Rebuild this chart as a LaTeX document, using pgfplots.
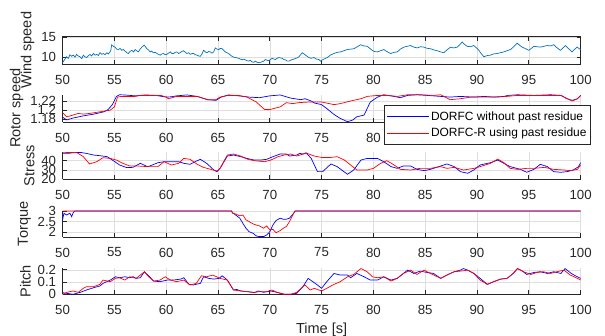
\documentclass[border=0pt]{standalone}
\usepackage{fontspec}
\setmainfont{Liberation Sans}
\usepackage{pgfplots}
\pgfplotsset{compat=1.18}
\definecolor{mblue}{rgb}{0,0.447,0.741}
\definecolor{axc}{rgb}{0.15,0.15,0.15}
\definecolor{gridc}{rgb}{0.87,0.87,0.87}
\pgfplotsset{
  mystyle/.style={
    scale only axis, width=518bp,
    xmin=50, xmax=100, xtick={50,55,60,65,70,75,80,85,90,95,100},
    tick align=inside, major tick length=4bp,
    grid=major, grid style={gridc, line width=0.5bp},
    axis line style={axc, line width=0.6bp},
    every tick/.style={axc, line width=0.6bp},
    tick label style={font=\fontsize{13.3}{14}\selectfont, text=axc},
    /pgf/number format/assume math mode=true,
    xticklabel style={yshift=-7.5bp},
    yticklabel style={xshift=-3bp},
    ylabel style={font=\fontsize{14.6}{16}\selectfont, text=axc},
    anchor=north west, clip=false,
  },
  openbox/.style={axis x line*=bottom, axis y line*=left},
  bl/.style={blue, line width=0.7bp},
  rd/.style={red, line width=0.7bp},
}
\begin{document}
\begin{tikzpicture}
\path[use as bounding box] (-62.6bp,0bp) rectangle (542.4bp,-336bp);
% Wind speed
\begin{axis}[mystyle, at={(0bp,-36.5bp)}, height=27.5bp, ymin=8.28, ymax=15.16, ytick={10,15}, ylabel={Wind speed}]
\addplot[mblue, line width=0.7bp] coordinates {(50,8.6) (50.2,9.4) (50.39,10.1) (50.55,9.7) (50.71,10.6) (50.87,10.2) (51.03,10.5) (51.2,10.0) (51.35,10.7) (51.5,10.3) (51.68,10.1) (51.85,9.6) (52,10.5) (52.15,10.1) (52.32,9.9) (52.5,10.4) (52.65,10.7) (52.8,10.3) (52.97,10.9) (53.13,10.5) (53.29,10.7) (53.45,10.4) (53.61,11.1) (53.78,10.7) (53.94,10.9) (54.1,10.6) (54.26,11.1) (54.42,10.8) (54.58,11.3) (54.66,11.8) (54.74,13.1) (54.9,12.7) (55.06,12.5) (55.22,12.0) (55.39,11.9) (55.55,12.2) (55.71,11.7) (55.87,11.9) (56.03,11.5) (56.2,11.1) (56.35,10.9) (56.5,11.4) (56.68,11.7) (56.85,11.3) (57,11.9) (57.15,11.6) (57.32,11.3) (57.48,12.0) (57.65,12.5) (57.87,13.0) (58.0,12.6) (58.13,12.1) (58.3,11.8) (58.45,11.3) (58.6,11.5) (58.77,11.1) (58.95,11.2) (59.1,10.9) (59.25,10.7) (59.42,10.5) (59.58,10.8) (59.74,10.9) (59.9,10.6) (60.06,10.7) (60.22,11.0) (60.39,11.3) (60.55,10.9) (60.71,10.9) (60.87,11.2) (61.03,11.3) (61.2,10.9) (61.35,11.1) (61.5,11.4) (61.68,11.6) (61.85,11.2) (62,10.9) (62.15,11.1) (62.32,10.7) (62.5,10.9) (62.65,10.9) (62.8,10.6) (62.97,10.5) (63.13,10.3) (63.29,10.2) (63.45,10.8) (63.61,11.7) (63.78,11.3) (63.94,11.1) (64.1,11.4) (64.26,11.3) (64.42,11.0) (64.58,11.3) (64.66,11.8) (64.74,12.3) (64.9,12.0) (65.06,11.9) (65.22,12.2) (65.39,12.1) (65.55,11.7) (65.71,11.3) (65.87,11.1) (66.03,10.9) (66.2,10.5) (66.35,10.2) (66.5,10.0) (66.68,9.9) (66.85,9.8) (67,9.7) (67.15,9.5) (67.32,9.4) (67.48,9.5) (67.65,9.3) (67.8,9.1) (67.97,9.0) (68.13,9.2) (68.29,8.8) (68.45,8.7) (68.61,9.0) (68.78,8.7) (68.94,8.6) (69.1,8.7) (69.26,8.85) (69.42,9.0) (69.58,9.4) (69.75,9.2) (69.9,9.1) (70.06,9.4) (70.23,9.7) (70.4,9.5) (70.55,9.4) (70.7,9.7) (70.87,9.9) (71.03,9.8) (71.19,9.7) (71.35,9.4) (71.52,9.3) (71.68,9.0) (71.84,9.0) (72.0,9.2) (72.16,9.4) (72.32,9.5) (72.48,9.7) (72.65,9.8) (72.81,10.1) (72.97,10.6) (73.13,11.1) (73.3,10.8) (73.45,10.5) (73.6,10.2) (73.77,9.9) (74.0,9.7) (74.26,9.9) (74.5,9.5) (74.74,9.4) (74.9,9.0) (75.06,9.3) (75.3,9.6) (75.55,9.9) (75.85,10.5) (76.19,10.9) (76.5,11.2) (76.83,11.3) (77.15,11.6) (77.48,11.9) (77.8,12.0) (78.12,12.1) (78.45,12.6) (78.76,13.1) (79.1,12.8) (79.41,12.7) (79.65,12.2) (79.89,11.7) (80.1,11.4) (80.37,11.3) (80.7,11.6) (81.01,11.9) (81.3,11.4) (81.66,10.9) (82,11.2) (82.3,11.3) (82.6,12.0) (82.94,12.5) (83.25,12.7) (83.59,12.9) (83.9,12.5) (84.23,12.3) (84.55,12.6) (84.87,12.5) (85.2,12.2) (85.51,12.1) (85.85,11.8) (86.16,11.6) (86.5,11.3) (86.8,11.1) (87.1,11.8) (87.44,12.5) (87.75,12.3) (88.09,12.5) (88.3,13.0) (88.57,13.8) (88.8,13.2) (89.05,12.7) (89.35,12.6) (89.69,12.9) (89.95,12.3) (90.18,11.7) (90.4,10.9) (90.66,10.1) (91.0,10.4) (91.3,10.5) (91.6,10.8) (91.95,10.9) (92.25,11.1) (92.59,11.3) (92.9,11.6) (93.23,11.9) (93.55,12.6) (93.87,13.5) (94.1,13.0) (94.36,12.5) (94.7,12.1) (95,11.7) (95.25,12.2) (95.48,12.7) (95.8,12.6) (96.13,12.5) (96.45,12.7) (96.77,12.9) (97.1,12.8) (97.41,13.1) (97.7,12.4) (98.05,11.7) (98.3,12.3) (98.54,12.9) (98.85,12.1) (99.18,11.3) (99.4,11.9) (99.66,12.5) (100,11.9)};
\end{axis}
% Rotor speed
\begin{axis}[mystyle, openbox, at={(0bp,-94.5bp)}, height=27.5bp, ymin=1.1735, ymax=1.234, ytick={1.18,1.2,1.22}, ylabel={Rotor speed},
  legend style={at={(0.6205,0.63)}, anchor=north west, font=\fontsize{12}{14}\selectfont, draw=axc, line width=0.6bp, fill=white, inner xsep=2bp, inner ysep=4.5bp, row sep=2.5bp, text=black},
  legend cell align=left,
  legend image code/.code={\draw[#1] (0bp,0bp) -- (42bp,0bp);}]
\addplot[bl] coordinates {(50,1.184) (50.4,1.178) (51,1.1822) (52,1.187) (53,1.1908) (54,1.196) (54.4,1.201) (54.8,1.2117) (55.2,1.2298) (55.5,1.2334) (56,1.233) (57,1.231) (58,1.233) (59,1.232) (60,1.2283) (60.5,1.229) (61,1.231) (62,1.233) (63,1.2298) (64,1.2226) (64.8,1.2211) (65.3,1.2283) (66,1.233) (67,1.231) (68,1.2283) (69,1.227) (70,1.231) (71,1.233) (72,1.2262) (73,1.2226) (73.4,1.2247) (74,1.2197) (74.3,1.2153) (75,1.2117) (75.5,1.2031) (76.2,1.1901) (76.8,1.1814) (77.5,1.1742) (78,1.1778) (78.4,1.185) (79.1,1.1887) (79.4,1.2031) (79.7,1.2175) (80.4,1.2283) (81,1.2334) (82,1.2298) (82.6,1.227) (83.3,1.232) (84.2,1.2334) (85.2,1.232) (86.5,1.2298) (87.4,1.2283) (88.4,1.2298) (89.7,1.2283) (90.7,1.2298) (91.6,1.2283) (92.6,1.2298) (93,1.232) (93.9,1.2334) (95.5,1.232) (97.1,1.2334) (98.1,1.232) (98.7,1.2247) (99.2,1.2211) (99.7,1.2247) (100,1.232)};
\addlegendentry{DORFC without past residue\hspace{30bp}}
\addplot[rd] coordinates {(50,1.1937) (50.4,1.185) (51,1.1887) (51.5,1.1923) (52,1.1908) (52.6,1.1923) (53.6,1.1959) (54.6,1.1995) (55,1.2067) (55.3,1.2283) (55.7,1.2298) (57,1.2298) (57.5,1.232) (59.5,1.232) (60,1.2283) (60.2,1.2247) (61,1.2298) (63,1.2298) (64,1.2226) (64.8,1.2226) (65.2,1.2283) (66,1.232) (67,1.232) (67.8,1.2283) (68.7,1.2175) (69.5,1.2009) (70,1.2009) (71,1.2067) (71.6,1.2161) (72.2,1.2139) (72.8,1.2161) (73.8,1.2175) (74.3,1.2175) (75,1.2175) (76.2,1.2117) (76.8,1.2139) (77.8,1.2197) (78.8,1.2247) (79.4,1.2298) (80.4,1.232) (81.4,1.232) (82.3,1.2298) (83.3,1.2334) (84.6,1.2334) (85.8,1.232) (86.5,1.2334) (87.4,1.2226) (88.4,1.2247) (89.4,1.2283) (90.6,1.2283) (91.9,1.2283) (92.9,1.2298) (93.9,1.232) (95.5,1.232) (97.1,1.232) (98.1,1.232) (98.7,1.2247) (99.2,1.2197) (99.7,1.2247) (100,1.232)};
\addlegendentry{DORFC-R using past residue}
\end{axis}
% Stress
\begin{axis}[mystyle, openbox, at={(0bp,-152.3bp)}, height=27bp, ymin=19.6, ymax=49.2, ytick={20,30,40}, ylabel={Stress}]
\addplot[bl] coordinates {(50,48) (50.5,48) (51,48.7) (51.7,49.1) (52.3,48) (53,46.2) (53.6,45.5) (54.3,44.4) (54.9,40) (55.5,35.3) (56.2,32.4) (56.8,32.7) (57.2,35.3) (57.5,37.1) (58.2,33.5) (58.5,34.5) (59.2,37.8) (59.8,38.9) (60.5,38.9) (61.2,38.9) (61.7,37.1) (62.3,36) (63,40) (63.3,41.5) (63.9,37.1) (64.6,29.8) (64.9,28) (65.2,31.6) (65.9,45.1) (66.5,46.2) (67.2,44.4) (67.8,42.5) (68.5,40.7) (69.1,40.7) (69.7,41.5) (70.3,44.4) (71,47.3) (71.6,47.3) (71.9,45.1) (72.6,46.2) (72.9,48) (73.2,47.3) (73.5,48.7) (74,42.5) (74.6,28) (75.1,28) (75.9,36.4) (76.5,33.5) (77.5,25.1) (78.1,29.8) (78.8,40.7) (79.4,42.5) (80.4,42.5) (81,38.9) (81.7,33.5) (82.3,31.6) (82.9,34.2) (83.6,34.2) (84.2,30.5) (84.9,29.1) (85.5,30.5) (86.5,34.2) (87.1,36.4) (87.8,33.5) (88.4,28) (89.1,26.2) (89.7,29.8) (90.3,35.3) (91.3,37.8) (92,40.7) (92.6,37.1) (93.2,33.5) (94.2,30.5) (94.8,27.3) (95.5,30.5) (96.1,36) (96.8,33.5) (97.4,28) (98.1,27.3) (98.7,28) (99.3,29.8) (99.8,33.5) (100,37.8)};
\addplot[rd] coordinates {(50,48.7) (50.7,49.1) (51.4,48.7) (52,44.4) (52.6,36.4) (53.3,38.9) (53.9,43.3) (54.6,42.5) (55.2,40.7) (55.8,37.1) (56.5,34.2) (57.2,34.2) (58.2,33.5) (59.2,33.5) (59.8,38.9) (60.5,35.3) (61.2,37.1) (61.7,42.5) (62.3,41.5) (63,36) (63.6,32.7) (64.3,30.5) (64.9,28.7) (65.2,31.6) (65.9,46.2) (66.5,47.3) (67.2,45.1) (67.8,41.8) (68.5,40) (69.5,38.9) (70.1,40.7) (70.8,44.4) (71.4,46.2) (72,47.3) (72.6,45.1) (73.2,47.3) (73.6,48) (74.3,45.1) (75,43.6) (75.9,43.6) (76.5,44.4) (77.2,40.7) (77.8,35.3) (78.4,29.8) (79.4,29.8) (80,31.6) (80.7,37.1) (81.3,40) (82,35.3) (82.6,30.5) (83.6,29.8) (84.5,31.6) (85.5,31.6) (86.5,33.5) (87.1,31.6) (87.8,32.7) (88.7,29.8) (89.7,31.6) (90.3,33.5) (91.3,37.1) (92,41.8) (92.6,37.8) (93.2,31.6) (93.9,30.5) (94.8,31.6) (95.5,31.6) (96.5,32.7) (97.4,30.5) (98.4,29.8) (99,29.1) (99.7,30.5) (100,35.3)};
\end{axis}
% Torque
\begin{axis}[mystyle, openbox, at={(0bp,-210.8bp)}, height=26bp, ymin=1.79, ymax=3.005, ytick={2,2.5,3}, ylabel={Torque}]
\addplot[bl] coordinates {(50,2.58) (50.13,2.89) (50.39,2.81) (50.71,2.89) (50.87,2.73) (51.03,2.92) (51.19,3) (66.3,3) (66.4,2.92) (66.7,2.81) (67.1,2.66) (67.4,2.42) (67.7,2.19) (68,2.03) (68.4,1.95) (68.7,1.83) (69,1.8) (69.4,1.8) (69.7,1.875) (70,2.03) (70.3,2.34) (70.6,2.55) (71,2.66) (71.3,2.61) (71.6,2.61) (71.9,2.66) (72.3,2.89) (72.45,3) (100,3)};
\addplot[rd] coordinates {(50,3) (66.3,3) (66.4,2.89) (66.7,2.86) (67.1,2.77) (67.4,2.81) (67.7,2.58) (68,2.5) (68.4,2.39) (68.7,2.34) (69,2.3) (69.4,2.19) (69.7,2.3) (70,2.11) (70.3,2.14) (70.6,1.98) (71,2.08) (71.3,2.19) (71.6,2.27) (71.9,2.5) (72.3,2.89) (72.45,3) (100,3)};
\end{axis}
% Pitch
\begin{axis}[mystyle, openbox, at={(0bp,-268.3bp)}, height=26bp, ymin=0, ymax=0.212, ytick={0,0.1,0.2}, ylabel={Pitch},
  xlabel={Time [s]}, xlabel style={font=\fontsize{14.6}{16}\selectfont, text=axc, at={(axis description cs:0.5,0)}, anchor=north, yshift=-25bp}]
\addplot[bl] coordinates {(50,0.0135) (50.4,0.008) (51,0) (51.7,0.016) (52.3,0.035) (53,0.054) (53.6,0.068) (53.9,0.089) (54.6,0.116) (55.1,0.143) (55.5,0.135) (56,0.143) (56.5,0.135) (56.8,0.143) (57.1,0.13) (57.5,0.135) (57.9,0.184) (58.3,0.151) (58.8,0.108) (59.4,0.103) (60.1,0.116) (60.7,0.116) (61.4,0.124) (61.7,0.135) (62.2,0.081) (62.6,0.076) (63.3,0.089) (63.6,0.143) (64.1,0.13) (64.6,0.124) (65.1,0.13) (65.4,0.151) (65.9,0.116) (66.5,0.035) (66.8,0.04) (67.2,0.027) (67.8,0.022) (68.5,0.0135) (68.9,0.027) (69.4,0.016) (70.1,0.027) (70.7,0.016) (71.4,0) (72,0) (72.6,0.008) (73.2,0.062) (73.7,0.13) (74.6,0.076) (75,0.049) (75.5,0.103) (76.2,0.17) (76.8,0.157) (77.5,0.157) (77.8,0.135) (78.4,0.17) (79.1,0.143) (79.7,0.116) (80.4,0.116) (81,0.143) (81.7,0.116) (82.3,0.13) (83.3,0.197) (83.9,0.17) (84.5,0.189) (85.2,0.178) (85.8,0.17) (86.5,0.13) (87.1,0.157) (87.8,0.184) (88.4,0.197) (88.7,0.21) (89.1,0.197) (89.7,0.17) (90.3,0.13) (91,0.081) (91.6,0.103) (92.3,0.124) (92.9,0.13) (93.5,0.17) (93.9,0.21) (94.4,0.189) (94.8,0.162) (95.5,0.178) (96.1,0.184) (96.8,0.17) (97.4,0.184) (98.1,0.17) (98.5,0.21) (99.1,0.17) (99.5,0.151) (100,0.13)};
\addplot[rd] coordinates {(50,0) (50.4,0.016) (51,0.027) (51.5,0.016) (52,0.049) (52.3,0.062) (53,0.062) (53.6,0.081) (53.9,0.116) (54.6,0.103) (55.1,0.13) (55.5,0.135) (56,0.116) (56.5,0.143) (57.1,0.13) (57.9,0.184) (58.3,0.143) (58.8,0.108) (59.4,0.116) (59.9,0.143) (60.4,0.116) (61,0.103) (61.7,0.116) (62.3,0.076) (62.9,0.089) (63.4,0.151) (63.9,0.143) (64.5,0.157) (65.2,0.13) (65.9,0.116) (66.5,0.035) (67.2,0.027) (67.8,0.022) (68.5,0.016) (69.1,0.022) (69.7,0.022) (70.2,0.035) (70.7,0.016) (71.4,0) (72,0) (72.6,0.016) (73.1,0.054) (73.4,0.076) (73.9,0.035) (74.3,0.049) (75,0.027) (75.5,0.049) (76.2,0.081) (76.8,0.103) (77.5,0.143) (78.1,0.162) (78.8,0.21) (79.4,0.184) (79.9,0.143) (80.4,0.135) (81,0.143) (81.7,0.108) (82.3,0.13) (82.9,0.17) (83.6,0.197) (84.2,0.162) (84.9,0.197) (85.5,0.17) (86.5,0.13) (87.1,0.157) (87.8,0.184) (88.4,0.189) (89.1,0.197) (89.7,0.17) (90.3,0.116) (91,0.081) (91.6,0.103) (92.3,0.124) (92.9,0.13) (93.5,0.17) (93.9,0.21) (94.5,0.184) (95.2,0.162) (95.8,0.178) (96.4,0.184) (97.1,0.17) (97.7,0.184) (98.4,0.197) (99,0.157) (99.7,0.13) (100,0.116)};
\end{axis}
\end{tikzpicture}
\end{document}
